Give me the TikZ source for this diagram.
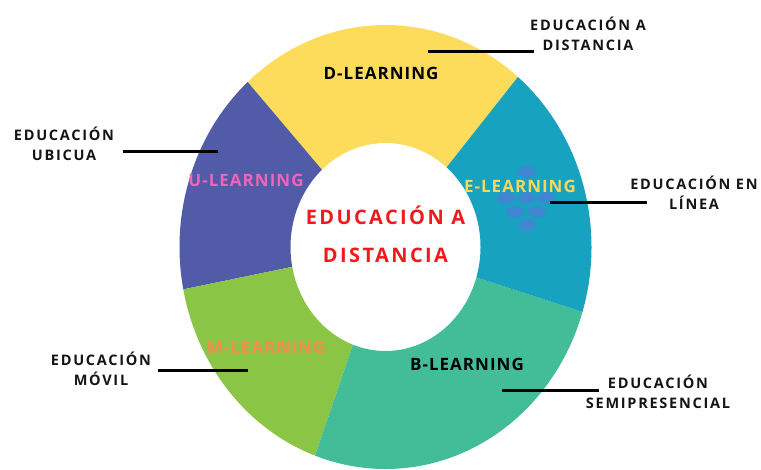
\documentclass[tikz,border=0pt]{standalone}
\usepackage{fontspec}
\setmainfont{Open Sans}
\newfontfamily\wide[LetterSpace=12]{Open Sans}
\newfontfamily\segfont[LetterSpace=6]{Open Sans}
\usepackage{tikz}
\usetikzlibrary{calc}

\definecolor{dyellow}{RGB}{253,220,92}
\definecolor{upurple}{RGB}{82,91,168}
\definecolor{mgreen}{RGB}{138,197,69}
\definecolor{bgreen}{RGB}{67,189,152}
\definecolor{eteal}{RGB}{23,162,192}
\definecolor{upink}{RGB}{240,100,185}
\definecolor{morange}{RGB}{245,140,75}
\definecolor{eyellow}{RGB}{248,215,90}
\definecolor{cred}{RGB}{240,25,30}
\definecolor{grape}{RGB}{68,133,210}

\begin{document}
\begin{tikzpicture}[x=1pt, y=1pt,
	seglabel/.style={font=\segfont\bfseries\fontsize{17}{18}\selectfont, inner sep=0pt},
	outlabel/.style={font=\wide\bfseries\fontsize{14.5}{20}\selectfont, align=center, inner sep=0pt, text=black!92},
	leader/.style={line width=3pt, black}]

\useasboundingbox (0,0) rectangle (761,-469);
\coordinate (c) at (385.5,-247);

% ring
\foreach \a/\b/\col in {50/132/dyellow, 132/191/upurple, 191/250/mgreen, 250/343/bgreen, -17/50/eteal}
	\fill [\col] ($(c)+(\a:206pt and 222pt)$)
		arc [start angle=\a, end angle=\b, x radius=206pt, y radius=222pt]
		-- ($(c)+(\b:95pt and 104pt)$)
		arc [start angle=\b, end angle=\a, x radius=95pt, y radius=104pt] -- cycle;

\foreach \gx/\gy in {527/172, 506/198, 527/198, 546/198, 515/212, 537/212, 527/225}
	\fill [grape, opacity=0.9] (\gx,-\gy) ellipse [x radius=9pt, y radius=6pt];

\node [seglabel] (dlearn) at (381,-73) {D-LEARNING};
\node [seglabel, text=upink] (ulearn) at (246,-180) {U-LEARNING};
\node [seglabel, text=eyellow] (elearn) at (520,-186) {E-LEARNING};
\node [seglabel, text=morange] (mlearn) at (266,-347) {M-LEARNING};
\node [seglabel] (blearn) at (467,-364.5) {B-LEARNING};

\node [font=\wide\bfseries\fontsize{20}{38}\selectfont, text=cred, align=center, inner sep=0pt]
	(centre) at (385.5,-234) {EDUCACIÓN A\\DISTANCIA};

% outer labels
\node [outlabel] (dlabel) at (588,-33.5) {EDUCACIÓN A\\DISTANCIA};
\node [outlabel] (ulabel) at (64,-143.5) {EDUCACIÓN\\UBICUA};
\node [outlabel] (mlabel) at (101,-368.5) {EDUCACIÓN\\MÓVIL};
\node [outlabel] (elabel) at (694,-193) {EDUCACIÓN EN\\LÍNEA};
\node [outlabel] (blabel) at (658,-392) {EDUCACIÓN\\SEMIPRESENCIAL};

\coordinate (d1) at (427.7,-51);
\coordinate (d2) at (534,-51);
\coordinate (u1) at (122.7,-151.7);
\coordinate (u2) at (218,-151.7);
\coordinate (m1) at (158,-370.7);
\coordinate (m2) at (248,-370.7);
\coordinate (e1) at (550,-202.7);
\coordinate (e2) at (646.7,-202.7);
\coordinate (b1) at (502,-390);
\coordinate (b2) at (599,-390);

\draw [leader] (d1) -- (d2);
\draw [leader] (u1) -- (u2);
\draw [leader] (m1) -- (m2);
\draw [leader] (e1) -- (e2);
\draw [leader] (b1) -- (b2);

\end{tikzpicture}
\end{document}
